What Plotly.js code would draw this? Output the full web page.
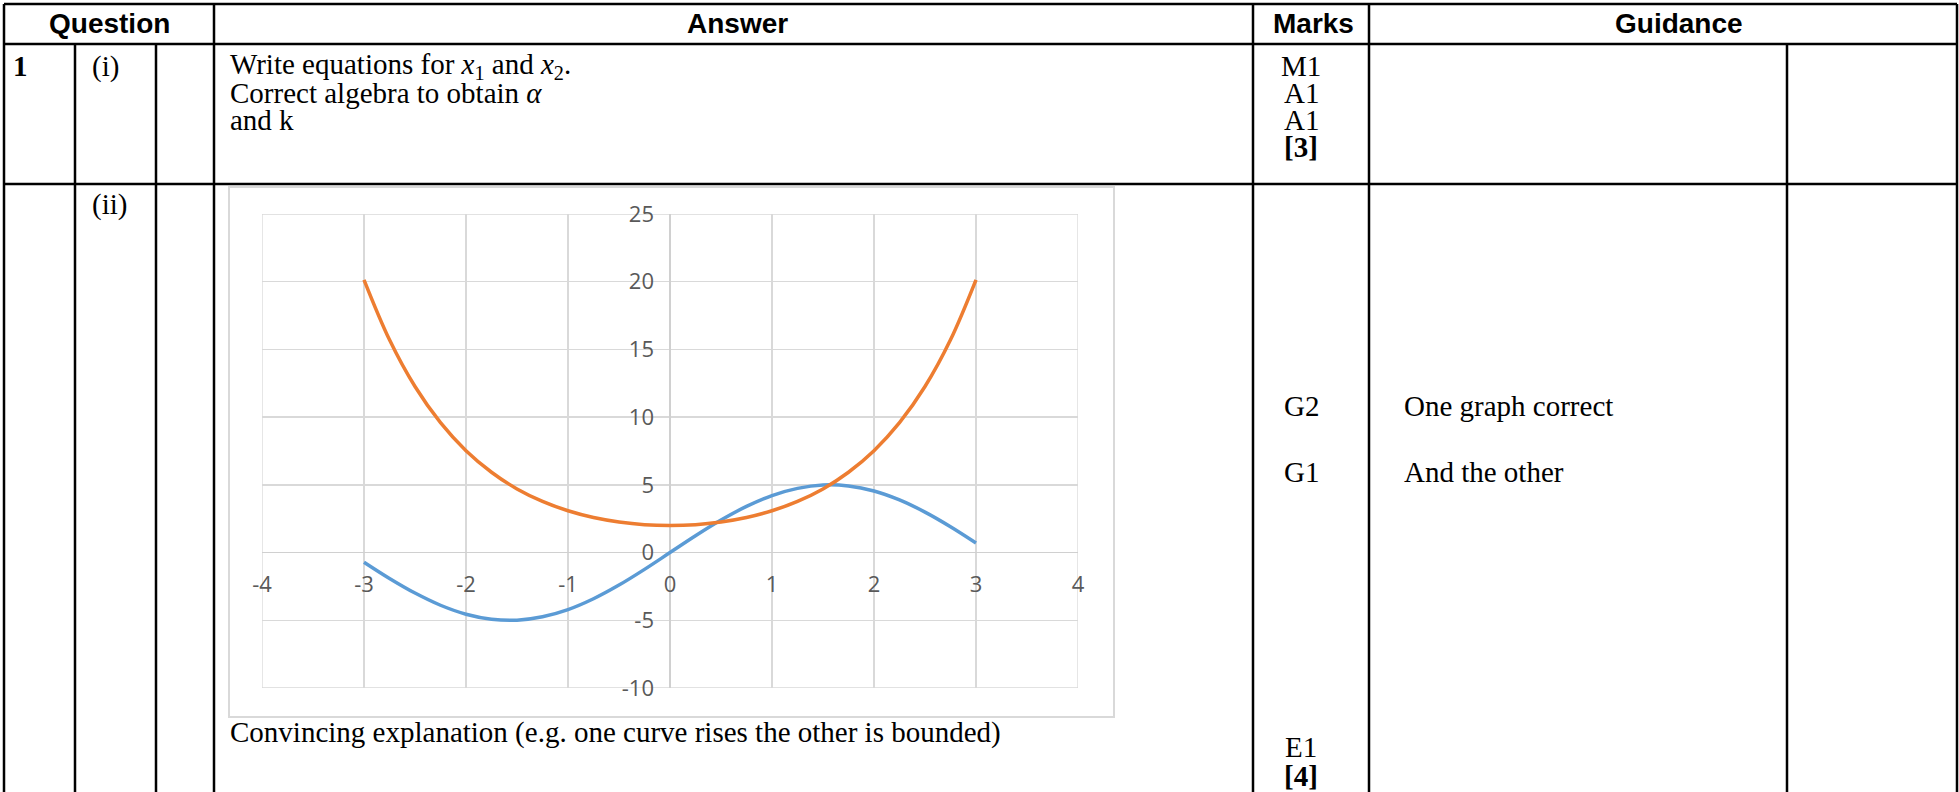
<!DOCTYPE html>
<html>
<head>
<meta charset="utf-8">
<script src="https://cdn.plot.ly/plotly-3.0.1.min.js"></script>
<style>html,body{margin:0;padding:0;background:#fff;}#chart{width:1959px;height:792px;}</style>
</head>
<body>
<div id="chart"></div>
<script>
// ---- data ----
const xValues = [-3, -2.75, -2.5, -2.25, -2, -1.75, -1.5, -1.25, -1, -0.75, -0.5, -0.25, 0, 0.25, 0.5, 0.75, 1, 1.25, 1.5, 1.75, 2, 2.25, 2.5, 2.75, 3];
const blueValues = [-0.71, -1.91, -2.99, -3.89, -4.55, -4.92, -4.99, -4.74, -4.21, -3.41, -2.40, -1.24, 0, 1.24, 2.40, 3.41, 4.21, 4.74, 4.99, 4.92, 4.55, 3.89, 2.99, 1.91, 0.71];
const orangeValues = [20.14, 15.71, 12.26, 9.59, 7.52, 5.93, 4.70, 3.78, 3.09, 2.59, 2.26, 2.06, 2.00, 2.06, 2.26, 2.59, 3.09, 3.78, 4.70, 5.93, 7.52, 9.59, 12.26, 15.71, 20.14];
const xTickVals = [-4, -3, -2, -1, 0, 1, 2, 3, 4];
const xTickLabels = ['-4', '-3', '-2', '-1', '0', '1', '2', '3', '4'];
const yTickVals = [-10, -5, 0, 5, 10, 15, 20, 25];
const yTickLabels = ['-10', '-5', '0', '5', '10', '15', '20', '25'];
const xRange = [-4, 4];
const yRange = [-10, 25];

const headerLabels = ['Question', 'Answer', 'Marks', 'Guidance'];
const row1Number = '1';
const row1Part = '(i)';
const row1Answer = ['Write equations for <i>x</i><sub>1</sub> and <i>x</i><sub>2</sub>.', 'Correct algebra to obtain <i>α</i>', 'and k'];
const row1Marks = ['M1', 'A1', 'A1', '<b>[3]</b>'];
const row2Part = '(ii)';
const row2Answer = 'Convincing explanation (e.g. one curve rises the other is bounded)';
const row2Marks = ['G2', 'G1', 'E1', '<b>[4]</b>'];
const row2Guidance = ['One graph correct', 'And the other'];

// ---- layout helpers (pixel -> paper) ----
const W = 1959, H = 792;
const X = p => p / W;
const Y = p => 1 - p / H;

const serif = 'Liberation Serif, Times New Roman, serif';
const sans = 'Liberation Sans, Arial, sans-serif';
const TS = 29;

const shapes = [];
function hline(y, x0, x1) {
  shapes.push({type: 'line', xref: 'paper', yref: 'paper', x0: X(x0), x1: X(x1), y0: Y(y), y1: Y(y), line: {color: '#000', width: 2.5}, layer: 'above'});
}
function vline(x, y0, y1) {
  shapes.push({type: 'line', xref: 'paper', yref: 'paper', x0: X(x), x1: X(x), y0: Y(y0), y1: Y(y1), line: {color: '#000', width: 2.5}, layer: 'above'});
}
// chart frame
shapes.push({type: 'rect', xref: 'paper', yref: 'paper', x0: X(229), x1: X(1114), y0: Y(717), y1: Y(187), line: {color: '#d9d9d9', width: 2}, fillcolor: 'rgba(0,0,0,0)', layer: 'below'});
// outer gridlines of the plot area (edge grid lines)
shapes.push({type: 'rect', xref: 'x', yref: 'y', x0: xRange[0], x1: xRange[1], y0: yRange[0], y1: yRange[1], line: {color: '#d9d9d9', width: 1.3}, fillcolor: 'rgba(0,0,0,0)', layer: 'below'});
// table lines
hline(4, 4, 1957);
hline(44, 4, 1957);
hline(184, 4, 1957);
vline(4, 4, 792);
vline(75, 44, 792);
vline(156, 44, 792);
vline(214, 4, 792);
vline(1253, 4, 792);
vline(1369, 4, 792);
vline(1787, 44, 792);
vline(1957, 4, 792);

const annotations = [];
function txt(text, x, y, anchor, font) {
  annotations.push({text: text, xref: 'paper', yref: 'paper', x: X(x), y: Y(y), xanchor: anchor, yanchor: 'middle', showarrow: false, font: font});
}
const hFont = {family: sans, size: 28, color: '#000', weight: 'bold'};
const tFont = {family: serif, size: TS, color: '#000'};
txt('<b>' + headerLabels[0] + '</b>', 109, 24, 'center', hFont);
txt('<b>' + headerLabels[1] + '</b>', 737, 24, 'center', hFont);
txt('<b>' + headerLabels[2] + '</b>', 1313, 24, 'center', hFont);
txt('<b>' + headerLabels[3] + '</b>', 1679, 24, 'center', hFont);

txt('<b>' + row1Number + '</b>', 11, 66, 'left', tFont);
txt(row1Part, 90, 66, 'left', tFont);
const r1y = [66, 93, 120, 147];
row1Answer.forEach((t, i) => txt(t, 228, r1y[i], 'left', tFont));
row1Marks.forEach((t, i) => txt(t, 1301, r1y[i], 'center', tFont));

txt(row2Part, 90, 204, 'left', tFont);
txt(row2Answer, 228, 732, 'left', tFont);
const r2y = [406, 472, 747, 776];
row2Marks.forEach((t, i) => txt(t, 1301, r2y[i], 'center', tFont));
txt(row2Guidance[0], 1402, 406, 'left', tFont);
txt(row2Guidance[1], 1402, 472, 'left', tFont);

const traces = [
  {x: xValues, y: blueValues, type: 'scatter', mode: 'lines', line: {color: '#5B9BD5', width: 3.5, shape: 'spline'}, hoverinfo: 'none'},
  {x: xValues, y: orangeValues, type: 'scatter', mode: 'lines', line: {color: '#ED7D31', width: 3.5, shape: 'spline'}, hoverinfo: 'none'}
];

const tickFont = {family: 'Open Sans, Calibri, sans-serif', size: 22, color: '#595959'};
const layout = {
  width: W, height: H,
  margin: {l: 0, r: 0, t: 0, b: 0},
  paper_bgcolor: '#fff', plot_bgcolor: 'rgba(0,0,0,0)',
  showlegend: false,
  xaxis: {
    domain: [X(262), X(1078)], range: xRange,
    tickmode: 'array', tickvals: xTickVals, ticktext: xTickLabels,
    showgrid: true, gridcolor: '#d9d9d9', gridwidth: 1.3,
    zeroline: true, zerolinecolor: '#d0d0d0', zerolinewidth: 1.5,
    showline: false, ticks: '',
    anchor: 'free', position: Y(553),
    ticklabelstandoff: 16, tickfont: tickFont, fixedrange: true, automargin: false
  },
  yaxis: {
    domain: [Y(688), Y(214)], range: yRange,
    tickmode: 'array', tickvals: yTickVals, ticktext: yTickLabels,
    showgrid: true, gridcolor: '#d9d9d9', gridwidth: 1.3,
    zeroline: true, zerolinecolor: '#d0d0d0', zerolinewidth: 1.5,
    showline: false, ticks: '',
    anchor: 'free', position: X(673),
    ticklabelstandoff: 19, tickfont: tickFont, fixedrange: true, automargin: false
  },
  shapes: shapes,
  annotations: annotations
};

Plotly.newPlot('chart', traces, layout, {staticPlot: true, displayModeBar: false});
</script>
</body>
</html>
